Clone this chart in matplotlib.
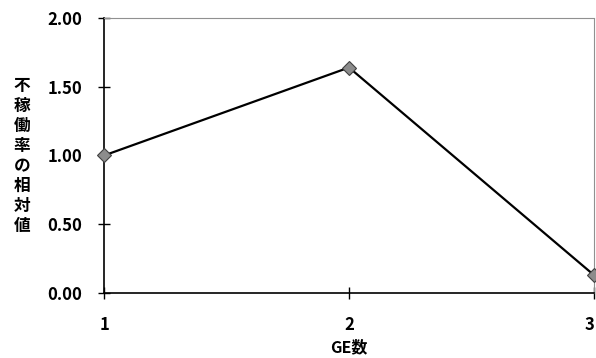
import matplotlib
matplotlib.use('Agg')
import numpy as np
from matplotlib import pyplot as plt

plt.rcParams['font.family'] = ['Noto Sans CJK JP', 'DejaVu Sans']

# GE count vs. relative downtime rate
ge_count = [1, 2, 3]
relative_rate = [1.00, 1.64, 0.13]
y_ticks = [0.0, 0.5, 1.0, 1.5, 2.0]
y_label = '不稼働率の相対値'
x_label = 'GE数'

fig = plt.figure(figsize=(5.96, 3.58), dpi=100, facecolor='w')
ax = fig.add_axes([0.1745, 0.1816, 0.8221, 0.7681])

ax.plot(ge_count, relative_rate, color='black', linewidth=1.6,
        marker='D', markersize=7, markerfacecolor='#8c8c8c',
        markeredgecolor='#404040', markeredgewidth=0.8,
        clip_on=False, zorder=3)

ax.set_xlim(1, 3)
ax.set_ylim(0, 2)
ax.set_xticks(ge_count)
ax.set_yticks(y_ticks)
ax.set_yticklabels(['{:.2f}'.format(v) for v in y_ticks])

for side in ('top', 'right'):
    ax.spines[side].set_color('#909090')
    ax.spines[side].set_linewidth(0.8)
    ax.spines[side].set_linestyle((0, (1, 1)))
for side in ('left', 'bottom'):
    ax.spines[side].set_linewidth(1.2)

ax.tick_params(axis='both', direction='inout', length=9, width=1.0,
               labelsize=12, colors='black')
ax.tick_params(axis='y', pad=11)
ax.tick_params(axis='x', pad=12)
for lbl in ax.get_xticklabels() + ax.get_yticklabels():
    lbl.set_fontweight('bold')
# last tick label sits at the figure edge
ax.get_xticklabels()[-1].set_horizontalalignment('right')

ax.set_xlabel(x_label, fontsize=11.5, fontweight='bold', labelpad=4)

# vertical, one character per line
fig.text(0.037, 0.564, '\n'.join(y_label), ha='center', va='center',
         fontsize=12, fontweight='bold', linespacing=1.15)

plt.savefig('out.png', dpi=100)
